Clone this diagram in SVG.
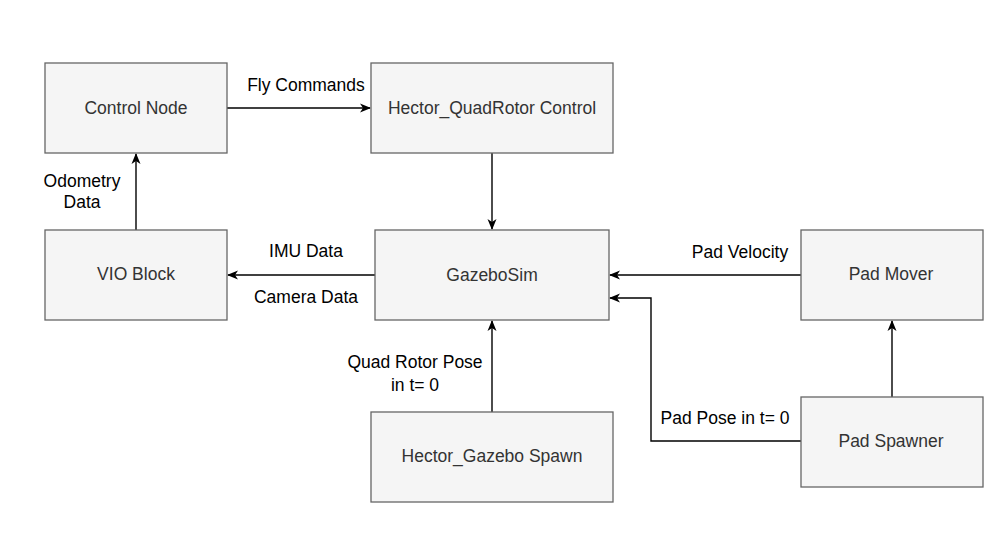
<svg xmlns="http://www.w3.org/2000/svg" width="1007" height="553" viewBox="0 0 1007 553">
<style>
.node rect{fill:#f5f5f5;stroke:#666666;stroke-width:1.3}
.node text{font-family:"Liberation Sans",Arial,sans-serif;font-size:17.5px;fill:#333333;text-anchor:middle}
.edge{fill:none;stroke:#000000;stroke-width:1.4}
.lbl{font-family:"Liberation Sans",Arial,sans-serif;font-size:17.5px;fill:#000000;text-anchor:middle}
</style>
<defs>
<marker id="arr" markerUnits="userSpaceOnUse" markerWidth="12" markerHeight="10" refX="10" refY="5" orient="auto" viewBox="0 0 12 10">
<path d="M0,0.5 L11,5 L0,9.5 L3,5 Z" fill="#000000"/>
</marker>
</defs>
<rect width="1007" height="553" fill="#ffffff"/>
<g id="connectors">
<path class="edge" d="M227,108 H370" marker-end="url(#arr)"/>
<g class="lbl"><text x="306" y="91">Fly Commands</text></g>
<path class="edge" d="M136,230 V154" marker-end="url(#arr)"/>
<text class="lbl" x="82" y="187">Odometry</text>
<text class="lbl" x="82" y="208">Data</text>
<path class="edge" d="M492,153 V229" marker-end="url(#arr)"/>
<path class="edge" d="M375,275 H228" marker-end="url(#arr)"/>
<text class="lbl" x="306" y="257">IMU Data</text>
<text class="lbl" x="306" y="303">Camera Data</text>
<path class="edge" d="M801,275 H610" marker-end="url(#arr)"/>
<text class="lbl" x="740" y="258">Pad Velocity</text>
<path class="edge" d="M801,441 H651 V298 H610" marker-end="url(#arr)"/>
<text class="lbl" x="725" y="424">Pad Pose in t= 0</text>
<path class="edge" d="M892,397 V321" marker-end="url(#arr)"/>
<path class="edge" d="M492,412 V321" marker-end="url(#arr)"/>
<text class="lbl" x="415" y="368">Quad Rotor Pose</text>
<text class="lbl" x="415" y="391">in t= 0</text>
</g>
<g id="control-node" class="node"><rect x="45" y="63" width="182" height="90"/><text x="136" y="114">Control Node</text></g>
<g id="hector-quadrotor-control" class="node"><rect x="371" y="63" width="242" height="90"/><text x="492" y="114">Hector_QuadRotor Control</text></g>
<g id="vio-block" class="node"><rect x="45" y="230" width="182" height="90"/><text x="136" y="280">VIO Block</text></g>
<g id="gazebosim" class="node"><rect x="375" y="230" width="234" height="90"/><text x="492" y="281">GazeboSim</text></g>
<g id="pad-mover" class="node"><rect x="801" y="230" width="182" height="90"/><text x="891" y="280">Pad Mover</text></g>
<g id="pad-spawner" class="node"><rect x="801" y="397" width="182" height="90"/><text x="891" y="447">Pad Spawner</text></g>
<g id="hector-gazebo-spawn" class="node"><rect x="371" y="412" width="242" height="90"/><text x="492" y="462">Hector_Gazebo Spawn</text></g>
</svg>
